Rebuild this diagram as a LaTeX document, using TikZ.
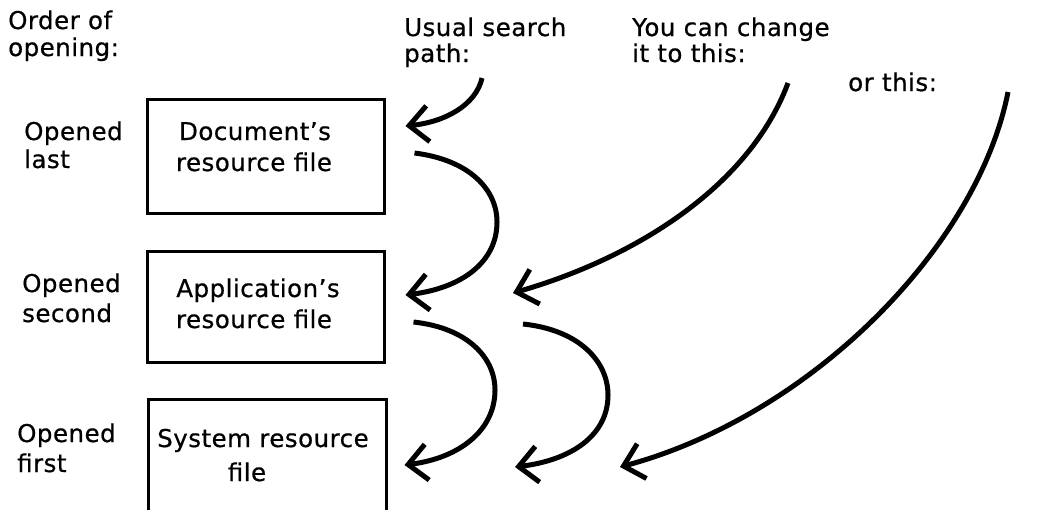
\documentclass[tikz,border=0pt]{standalone}
\usepackage{fontspec}
\setmainfont{DejaVu Sans}[LetterSpace=2.0,FakeBold=0.6]
\usetikzlibrary{arrows.meta,calc}
\begin{document}
\begin{tikzpicture}[x=1pt,y=-1pt,
  txt/.style={inner sep=0pt, font=\fontsize{24.5}{28}\selectfont},
  lbl/.style={txt, anchor=base west},
  ctr/.style={txt, anchor=base},
  box/.style={draw, line width=2.5pt, anchor=north west, inner sep=0pt},
  conn/.style={line width=5pt, -{Straight Barb[length=19pt,width=36pt]}}]
\useasboundingbox (0,0) rectangle (1056,509);
\fill[white] (0,0) rectangle (1056,509);
\clip (0,0) rectangle (1056,509);

% boxes
\node[box, minimum width=237pt, minimum height=114pt] (doc) at (146,98) {};
\node[box, minimum width=237pt, minimum height=111pt] (app) at (146,250) {};
\node[box, minimum width=238pt, minimum height=150pt] (sys) at (147,398) {};

% box texts
\node[ctr] (doc1) at (255,140) {Document's};
\node[ctr] (doc2) at (254,171) {resource file};
\node[ctr] (app1) at (258,297) {Application's};
\node[ctr] (app2) at (254,328) {resource file};
\node[ctr] (sys1) at (263,447) {System resource};
\node[ctr] (sys2) at (247,481) {file};

% left labels
\node[lbl] (ord1) at (8,29) {Order of};
\node[lbl] (ord2) at (8,56) {opening:};
\node[lbl] (last1) at (24,140) {Opened};
\node[lbl] (last2) at (24,168) {last};
\node[lbl] (sec1) at (22,292) {Opened};
\node[lbl] (sec2) at (22,322) {second};
\node[lbl] (fir1) at (17,442) {Opened};
\node[lbl] (fir2) at (17,472) {first};

% top labels
\node[lbl] (usual1) at (404,36) {Usual search};
\node[lbl] (usual2) at (404,62) {path:};
\node[lbl] (you1) at (632,36) {You can change};
\node[lbl] (you2) at (632,62) {it to this:};
\node[lbl] (orthis) at (848,91) {or this:};

% connector start points
\coordinate (aS) at (482,78);
\coordinate (cS) at (788,83);
\coordinate (fS) at (1008,92);

% usual path
\draw[conn] (aS) .. controls (476,105) and (445,122) .. ($(doc.north east)+(20,28)$);
\draw[conn] ($(doc.north east)+(29,55)$) .. controls (470,160) and (497,190) .. (497,222)
   .. controls (497,262) and (462,288) .. ($(app.north east)+(20,45)$);
\draw[conn] ($(app.north east)+(28,72)$) .. controls (468,328) and (495,358) .. (495,390)
   .. controls (495,430) and (460,458) .. ($(sys.north east)+(17,67)$);

% you can change it to this
\draw[conn] (cS) .. controls (750,185) and (638,257) .. (513,293);
\draw[conn] (523,324) .. controls (580,330) and (608,362) .. (608,395)
   .. controls (608,435) and (572,460) .. (515,467);

% or this
\draw[conn] (fS) .. controls (978,245) and (813,415) .. (620,467);
\end{tikzpicture}
\end{document}
